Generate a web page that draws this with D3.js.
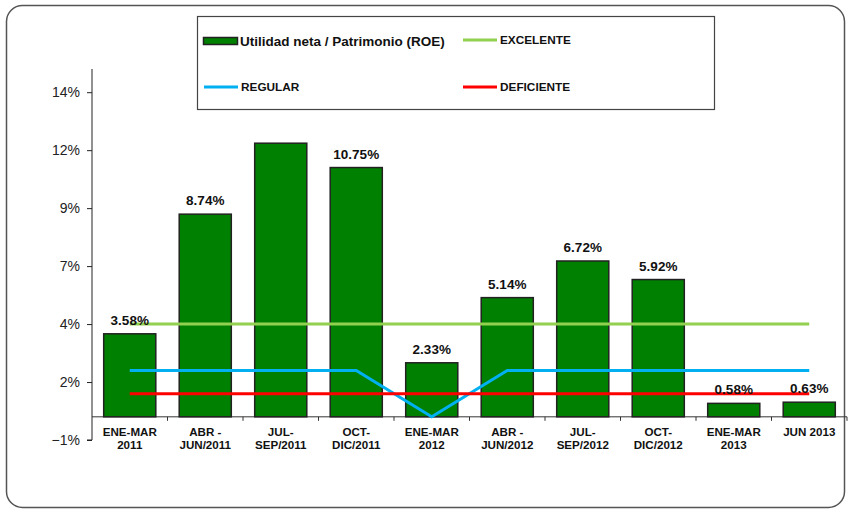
<!DOCTYPE html>
<html>
<head>
<meta charset="utf-8">
<script src="https://cdn.jsdelivr.net/npm/d3@7"></script>
<style>
  body { margin: 0; background: #fff; }
  svg { display: block; font-family: "Liberation Sans", Arial, sans-serif; }
</style>
</head>
<body>
<div id="chart"></div>
<script>
// data
const categories = [
    ['ENE-MAR', '2011'], ['ABR -', 'JUN/2011'], ['JUL-', 'SEP/2011'], ['OCT-', 'DIC/2011'],
    ['ENE-MAR', '2012'], ['ABR -', 'JUN/2012'], ['JUL-', 'SEP/2012'], ['OCT-', 'DIC/2012'],
    ['ENE-MAR', '2013'], ['JUN 2013']
];
const roe = [3.58, 8.74, 11.8, 10.75, 2.33, 5.14, 6.72, 5.92, 0.58, 0.63];
// the third label is not shown in the original
const roeLabels = ['3.58%', '8.74%', '', '10.75%', '2.33%', '5.14%', '6.72%', '5.92%', '0.58%', '0.63%'];
const excelente = [4, 4, 4, 4, 4, 4, 4, 4, 4, 4];
const regular = [2, 2, 2, 2, 0, 2, 2, 2, 2, 2];
const deficiente = [1, 1, 1, 1, 1, 1, 1, 1, 1, 1];
const yTicks = [-1, 1.5, 4, 6.5, 9, 11.5, 14];

const width = 848, height = 509;
let margin = {top: 69, left: 92, right: 1, bottom: 69};

const svg = d3.select('#chart').append('svg')
    .attr('width', width)
    .attr('height', height);

// outer rounded frame
svg.append('rect')
    .attr('x', 6.5).attr('y', 5.5)
    .attr('width', 838).attr('height', 502)
    .attr('rx', 16)
    .attr('fill', '#fff')
    .attr('stroke', '#555')
    .attr('stroke-width', 1.5);

const keys = categories.map((d, i) => i);

let xScale = d3.scaleBand()
    .domain(keys)
    .range([margin.left, width - margin.right])
    .paddingInner(0.31)
    .paddingOuter(0.155);

let yScale = d3.scaleLinear()
    .domain([-1, 15])
    .range([440, margin.top]);

const cx = i => xScale(i) + xScale.bandwidth() / 2;

// Y axis
const yAxis = svg.append('g')
    .attr('transform', `translate(${margin.left},0)`)
    .call(d3.axisLeft(yScale).tickValues(yTicks).tickSize(5).tickFormat(d => d3.format('.0f')(Math.round(d)) + '%'));
yAxis.select('.domain').attr('d', `M-5,${yScale(-1)}H0V${yScale(15)}`).attr('stroke', '#222');
yAxis.selectAll('.tick line').attr('stroke', '#222');
yAxis.selectAll('.tick text')
    .attr('x', -12)
    .attr('fill', '#222')
    .style('font-size', '14px');

// category axis at zero
const x0 = yScale(0);
const xAxis = svg.append('g')
    .attr('transform', `translate(0,${x0})`);
xAxis.append('line')
    .attr('x1', margin.left).attr('x2', width - margin.right)
    .attr('stroke', '#333').attr('stroke-width', 1);
xAxis.selectAll('.tk')
    .data(d3.range(1, categories.length + 1))
    .enter().append('line')
    .attr('x1', d => margin.left + d * xScale.step())
    .attr('x2', d => margin.left + d * xScale.step())
    .attr('y1', 0).attr('y2', 4)
    .attr('stroke', '#333');

const catText = svg.append('g').selectAll('text')
    .data(categories)
    .enter().append('text')
    .attr('text-anchor', 'middle')
    .attr('font-weight', 'bold')
    .style('font-size', '11.6px')
    .attr('fill', '#111');
catText.each(function(d, i) {
    d.forEach((line, j) => {
        d3.select(this).append('tspan')
            .attr('x', cx(i))
            .attr('y', x0 + 19 + j * 13)
            .text(line);
    });
});

// bars
svg.selectAll('.bar')
    .data(roe)
    .enter().append('rect')
    .attr('class', 'bar')
    .attr('x', (d, i) => xScale(i))
    .attr('y', d => yScale(d))
    .attr('width', xScale.bandwidth())
    .attr('height', d => yScale(0) - yScale(d))
    .attr('fill', '#008000')
    .attr('stroke', '#222')
    .attr('stroke-width', 1.5);

// reference lines
const line = d3.line()
    .x((d, i) => cx(i))
    .y(d => yScale(d));

[[excelente, '#92D050'], [regular, '#00B0F0'], [deficiente, '#FF0000']].forEach(s => {
    svg.append('path')
        .datum(s[0])
        .attr('d', line)
        .attr('fill', 'none')
        .attr('stroke', s[1])
        .attr('stroke-width', 3);
});

// value labels
svg.selectAll('.lbl')
    .data(roe)
    .enter().append('text')
    .attr('x', (d, i) => cx(i))
    .attr('y', d => yScale(d) - 9)
    .attr('text-anchor', 'middle')
    .attr('font-weight', 'bold')
    .style('font-size', '13.5px')
    .attr('fill', '#111')
    .text((d, i) => roeLabels[i]);

// legend
const legend = svg.append('g');
legend.append('rect')
    .attr('x', 197.5).attr('y', 16.5)
    .attr('width', 517).attr('height', 93)
    .attr('fill', '#fff')
    .attr('stroke', '#444')
    .attr('stroke-width', 1.2);

legend.append('rect')
    .attr('x', 203.5).attr('y', 37.5)
    .attr('width', 34).attr('height', 7)
    .attr('fill', '#008000')
    .attr('stroke', '#222')
    .attr('stroke-width', 1.5);
legend.append('text')
    .attr('x', 240).attr('y', 46)
    .attr('font-weight', 'bold')
    .style('font-size', '13.5px')
    .attr('fill', '#111')
    .text('Utilidad neta / Patrimonio (ROE)');

const legendLines = [
    ['EXCELENTE', '#92D050', 463, 40],
    ['REGULAR', '#00B0F0', 204, 87],
    ['DEFICIENTE', '#FF0000', 463, 87]
];
legendLines.forEach(l => {
    legend.append('line')
        .attr('x1', l[2]).attr('x2', l[2] + 34)
        .attr('y1', l[3]).attr('y2', l[3])
        .attr('stroke', l[1])
        .attr('stroke-width', 3);
    legend.append('text')
        .attr('x', l[2] + 37).attr('y', l[3] + 4)
        .attr('font-weight', 'bold')
        .style('font-size', '11.8px')
        .attr('fill', '#111')
        .text(l[0]);
});
</script>
</body>
</html>
